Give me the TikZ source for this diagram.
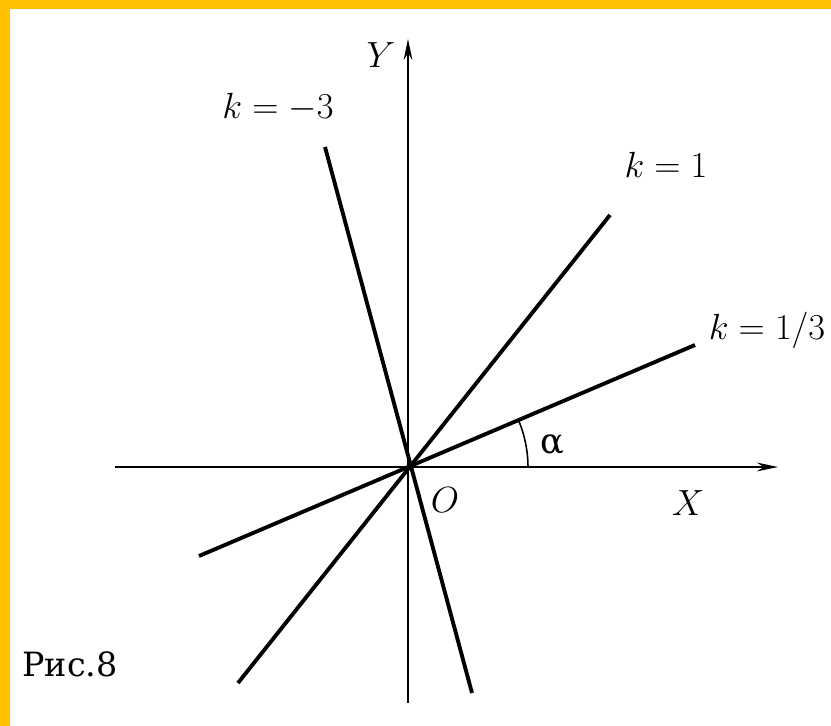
\documentclass[tikz,border=0pt]{standalone}
\usepackage{fontspec}
\newfontfamily\ruscap{DejaVu Serif}
\definecolor{Ramka}{RGB}{255,192,0}
\usetikzlibrary{arrows.meta}

\begin{document}
\begin{tikzpicture}[
  x=0.02cm, y=0.02cm,
  axis/.style={-{Stealth[length=12pt, width=5pt]}, line width=1pt, color=black},
  pryam/.style={line width=2.2pt, color=black},
  lbl/.style={inner sep=0pt, font=\fontsize{21}{24}\selectfont}
]

%% Rama
\fill[Ramka] (0,0) rectangle (831,726);
\fill[white] (10,0) rectangle (831,717);
\useasboundingbox (0,0) rectangle (831,726);

%% Osi
\coordinate (O) at (408,259);
\coordinate (xl) at (115,259);
\coordinate (xr) at (778,259);
\coordinate (yb) at (408,23);
\coordinate (yt) at (408,687);
\draw[axis] (xl) -- (xr);
\draw[axis] (yb) -- (yt);

%% Pryamye
\coordinate (m3a) at (325,579);
\coordinate (m3b) at (472,33);
\coordinate (p1a) at (610,511);
\coordinate (p1b) at (238,43);
\coordinate (p3a) at (695,381);
\coordinate (p3b) at (199,170);
\draw[pryam] (m3b) -- (m3a);
\draw[pryam] (p1b) -- (p1a);
\draw[pryam] (p3b) -- (p3a);

%% Ugol
\draw[line width=0.9pt] ([xshift=2.4cm]O) arc[start angle=0, end angle=22.9, radius=2.4cm];

%% Podpisi
\node[lbl] (lx) at (688,223) {$X$};
\node[lbl] (ly) at (381,671) {$Y$};
\node[lbl] (lo) at (445,226) {$O$};
\node[lbl, font=\ruscap\fontsize{20}{24}\selectfont] (la) at (552,281) {α};
\node[lbl] (lm3) at (278,619) {$k=-3$};
\node[lbl] (lp1) at (666,561) {$k=1$};
\node[lbl] (lp3) at (767,396) {$k=1/3$};
\node[lbl, font=\ruscap\fontsize{19}{24}\selectfont] (ris) at (70,62) {Рис.8};

\end{tikzpicture}
\end{document}
